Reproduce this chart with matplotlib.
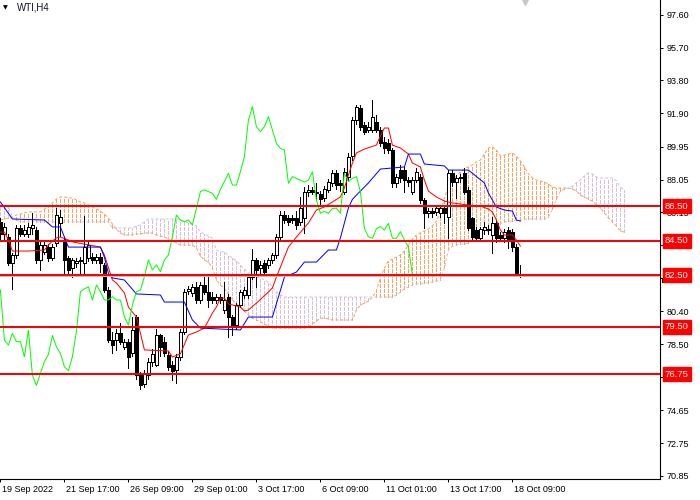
import numpy as np
import matplotlib
matplotlib.use("Agg")
import matplotlib.pyplot as plt
import matplotlib.transforms as mtransforms
from matplotlib.patches import Rectangle

plt.rcParams['font.family'] = ['Liberation Sans', 'DejaVu Sans']
plt.rcParams['lines.scale_dashes'] = False

# WTI H4 candles (bar 0 = 19 Sep 2022 01:00)
opens = [85.60, 84.90, 84.73, 83.18, 83.67, 85.22, 84.90, 84.90, 85.22, 85.12,
         83.38, 83.86, 84.15, 83.47, 84.35, 85.50, 84.54, 83.47, 82.89, 83.22,
         83.34, 83.22, 83.47, 83.57, 83.40, 83.57, 83.09, 81.64, 78.73, 78.73,
         79.12, 78.35, 78.64, 77.96, 80.09, 76.70, 76.20, 76.70, 77.48, 77.30,
         79.00, 78.64, 77.87, 77.28, 76.99, 77.77, 79.22, 81.60, 81.45, 81.83,
         81.06, 81.93, 81.54, 81.25, 81.06, 81.25, 80.48, 81.25, 80.09, 79.60,
         80.77, 81.35, 81.35, 82.41, 83.38, 82.90, 83.19, 83.09, 83.38, 83.67,
         84.73, 85.99, 85.80, 85.80, 85.80, 85.60, 85.80, 87.35, 87.45, 87.35,
         87.20, 86.96, 87.45, 87.83, 88.41, 87.83, 87.35, 88.20, 89.40, 91.50,
         92.18, 91.20, 90.93, 90.93, 91.41, 90.93, 90.25, 90.15, 89.77, 87.83,
         88.60, 88.60, 88.02, 87.35, 88.02, 88.22, 86.86, 86.10, 86.23, 86.19,
         86.09, 86.38, 85.90, 88.41, 87.93, 88.12, 88.41, 87.44, 85.80, 85.12,
         84.64, 85.12, 85.20, 84.83, 85.51, 84.83, 84.64, 85.12, 85.03, 84.15,
         82.55]
highs = [85.80, 85.50, 84.90, 83.80, 85.40, 85.40, 85.40, 85.50, 86.09, 85.30,
         84.40, 84.40, 84.30, 84.30, 86.38, 86.28, 84.70, 83.60, 83.50, 83.50,
         83.55, 85.93, 84.40, 83.80, 83.70, 83.80, 83.20, 81.80, 79.22, 79.40,
         79.70, 78.80, 78.80, 80.09, 80.20, 76.90, 77.00, 77.70, 78.20, 79.40,
         79.10, 78.90, 78.10, 77.50, 77.90, 79.40, 81.70, 81.90, 82.00, 82.10,
         82.10, 82.41, 82.41, 81.50, 81.40, 81.40, 82.12, 81.40, 80.20, 80.90,
         81.64, 81.80, 82.50, 84.00, 83.50, 83.30, 83.40, 83.50, 83.80, 84.90,
         86.20, 86.20, 86.00, 86.00, 86.20, 87.06, 87.60, 87.73, 87.60, 87.83,
         87.40, 87.70, 88.10, 88.60, 88.60, 88.00, 88.70, 89.60, 91.70, 92.38,
         92.40, 91.40, 91.40, 92.67, 91.80, 91.10, 90.50, 90.40, 89.90, 88.40,
         88.90, 88.80, 88.20, 88.20, 88.70, 88.40, 87.00, 86.40, 86.40, 86.50,
         86.60, 86.50, 88.60, 88.60, 88.30, 88.40, 88.70, 87.60, 85.90, 85.30,
         85.30, 85.60, 85.40, 85.90, 85.70, 85.00, 85.20, 85.30, 85.20, 84.30,
         83.10]
lows = [84.60, 84.60, 83.09, 81.67, 83.50, 84.80, 84.80, 84.70, 84.90, 83.20,
        82.80, 83.70, 83.30, 83.40, 84.20, 84.80, 82.60, 82.45, 82.37, 83.00,
        82.64, 82.60, 83.30, 83.20, 83.20, 82.70, 81.50, 78.60, 77.96, 78.15,
        78.50, 78.20, 77.09, 77.80, 76.50, 75.90, 76.00, 76.50, 77.20, 77.20,
        77.80, 77.80, 77.00, 76.40, 76.26, 77.60, 79.10, 81.40, 81.30, 80.90,
        80.90, 81.40, 80.67, 80.90, 80.90, 80.90, 80.30, 78.90, 79.00, 79.40,
        80.67, 81.20, 81.20, 82.30, 81.80, 82.60, 82.50, 82.90, 83.20, 83.50,
        84.60, 85.50, 85.40, 85.50, 85.20, 85.40, 84.93, 87.10, 87.20, 86.86,
        86.60, 86.80, 87.30, 87.70, 87.50, 87.40, 87.20, 88.00, 89.20, 91.30,
        90.90, 90.70, 90.80, 90.80, 90.80, 90.00, 89.60, 89.60, 87.60, 87.60,
        87.90, 87.35, 87.70, 87.20, 87.90, 86.70, 85.22, 85.90, 85.90, 86.00,
        85.90, 85.50, 84.64, 87.70, 87.00, 87.90, 87.20, 85.10, 84.50, 84.50,
        84.50, 84.90, 84.90, 83.77, 84.40, 84.50, 84.40, 84.06, 83.90, 82.45,
        82.40]
closes = [84.90, 85.30, 83.18, 83.67, 85.22, 84.90, 85.12, 85.30, 85.41, 83.38,
          84.25, 84.25, 83.47, 84.15, 85.99, 85.89, 83.38, 82.80, 83.38, 83.34,
          83.40, 84.15, 84.25, 83.38, 83.55, 83.18, 81.64, 78.73, 78.44, 79.12,
          78.64, 78.64, 77.77, 79.32, 76.70, 76.10, 76.80, 77.48, 77.90, 79.00,
          78.35, 77.96, 77.19, 76.95, 77.77, 79.22, 81.54, 81.70, 81.83, 81.06,
          81.93, 81.54, 81.06, 81.06, 81.25, 81.06, 81.06, 80.09, 79.60, 80.77,
          81.54, 81.64, 82.41, 83.38, 82.80, 83.10, 82.70, 83.38, 83.67, 84.73,
          85.99, 85.70, 85.60, 85.70, 85.41, 86.38, 87.35, 87.45, 87.35, 87.25,
          86.90, 87.48, 87.93, 88.41, 87.73, 87.73, 88.51, 89.38, 91.50, 92.28,
          91.12, 90.83, 91.12, 91.70, 90.93, 90.15, 89.86, 89.77, 87.83, 88.22,
          88.12, 88.02, 87.90, 88.02, 88.50, 86.86, 86.09, 86.20, 86.09, 86.38,
          86.38, 86.09, 88.41, 87.93, 88.12, 88.22, 87.35, 85.22, 84.73, 84.64,
          85.20, 85.32, 85.12, 85.51, 84.64, 84.64, 85.03, 84.54, 84.15, 82.51,
          82.45]

# Ichimoku lines (bar index, price)
tenkan_x = [0, 1, 2, 3, 7, 11, 12, 13, 14, 15, 17, 18, 25, 26, 28, 29, 31, 32, 34, 35,
            36, 42, 43, 45, 47, 49, 51, 53, 54, 55, 56, 57, 60, 61, 62, 64, 67, 68, 69, 70,
            71, 72, 74, 77, 79, 81, 83, 85, 86, 87, 88, 89, 91, 94, 95, 96, 97, 98, 100, 102,
            103, 105, 106, 107, 109, 111, 113, 117, 120, 122, 123, 124, 125, 126, 128, 129, 130]
tenkan_y = [85.00, 85.00, 84.54, 83.90, 83.90, 83.96, 84.25, 84.48, 84.66, 84.71,
            84.54, 84.43, 84.13, 83.67, 82.22, 82.05, 81.47, 80.65, 80.07, 79.14,
            78.16, 78.10, 77.75, 77.93, 79.03, 79.20, 79.43, 80.30, 80.65, 81.17,
            81.17, 80.83, 80.65, 80.42, 80.48, 80.88, 81.52, 81.76, 82.39, 82.97,
            83.55, 84.13, 84.71, 85.53, 86.28, 86.46, 86.75, 87.04, 87.56, 88.31,
            89.00, 89.59, 89.82, 90.05, 90.58, 91.04, 91.04, 90.05, 89.88, 89.53,
            89.01, 88.78, 88.02, 87.38, 87.04, 86.80, 86.69, 86.57, 86.51, 86.34,
            86.17, 85.70, 85.12, 84.83, 84.83, 84.54, 84.19]

kijun_x = [0, 3, 11, 13, 15, 17, 25, 26, 27, 28, 31, 34, 40, 41, 46, 48, 50, 60, 62, 68,
           71, 74, 76, 79, 82, 84, 85, 87, 88, 90, 92, 95, 101, 102, 105, 106, 111, 112, 117, 121,
           122, 124, 126, 128, 129, 130]
kijun_y = [86.75, 85.76, 85.70, 85.30, 85.30, 84.13, 84.13, 83.55, 82.60, 82.34,
           82.22, 81.41, 81.35, 80.94, 80.94, 79.90, 79.43, 79.32, 80.07, 80.07,
           82.39, 82.68, 83.26, 83.26, 83.96, 83.96, 84.66, 86.40, 86.90, 87.38,
           87.85, 88.66, 88.78, 89.53, 89.53, 88.95, 88.84, 88.60, 88.60, 87.85,
           87.27, 86.45, 86.28, 86.22, 85.70, 85.64]

# Senkou spans, one value per bar (0 .. 156)
span_a = ([85.70, 85.76, 85.82, 85.88, 85.99, 86.05, 86.11, 86.17, 86.17, 86.17,
           86.17, 86.34, 86.51, 86.69, 86.92, 87.04, 87.04, 86.98, 86.98, 86.86,
           86.75, 86.69, 86.57, 86.46, 86.34, 86.22, 86.05, 85.82, 85.47, 85.18,
           84.95, 84.83, 84.83, 84.83, 84.89, 84.89, 84.95, 84.95, 84.95, 84.83,
           84.77, 84.71, 84.60, 84.48, 84.37, 84.25, 84.25, 84.25, 84.25, 84.08,
           83.61, 83.38, 83.26, 82.92, 82.22, 81.93, 81.70, 81.41, 81.06, 80.83,
           80.65, 80.42, 80.19, 80.01, 79.90, 79.78, 79.67, 79.55]
          + [79.43] * 9
          + [79.49, 79.67, 79.84, 80.01, 80.01, 79.96, 79.90]
          + [79.90] * 5
          + [80.48, 80.77, 80.88, 81.00, 81.23, 81.58, 82.39, 82.92, 83.32, 83.44,
             83.55, 83.67, 83.90, 84.25, 84.60, 84.83, 84.95, 85.06, 85.18, 85.35,
             85.64, 86.17, 86.98, 87.67, 88.02, 88.26, 88.49, 88.66, 88.78, 88.89,
             89.07, 89.18, 89.53, 89.88, 89.94, 89.76, 89.42, 89.47, 89.53, 89.59,
             89.42, 89.13, 88.78, 88.37, 88.14, 88.02, 87.97, 87.91, 87.79, 87.62,
             87.56, 87.56, 87.56, 87.56, 87.50, 87.38, 87.15, 87.04, 86.92, 86.80,
             86.57, 86.40, 86.11, 85.82, 85.59, 85.35, 85.06, 85.00])
span_b = ([86.63, 86.57, 86.46, 85.88, 85.70]
          + [85.59] * 23
          + [85.24] * 6
          + [85.35, 85.41, 85.59, 85.76]
          + [85.76] * 7
          + [85.70, 85.64, 85.53, 85.47, 85.35, 85.00, 84.89, 84.77, 84.66, 83.96,
             83.85, 83.85, 83.67, 83.50, 83.32, 83.09, 82.86, 82.63, 82.45, 82.39,
             82.34, 82.22, 82.10, 81.81, 81.52, 81.35, 81.23]
          + [81.23] * 27
          + [81.35, 81.52, 81.70, 81.81, 81.93, 81.99, 81.99, 82.05, 82.05, 82.10,
             82.16, 82.22, 82.92, 83.96, 84.19, 84.25, 84.31, 84.31, 84.37, 84.54,
             84.71, 84.83, 84.95, 85.06, 85.18, 85.35, 85.47, 85.59, 85.64, 85.64,
             85.70, 85.70]
          + [85.76] * 6
          + [85.88, 86.34, 86.92, 87.38, 87.50, 87.56, 87.67, 87.85, 88.02, 88.26,
             88.43, 88.37, 88.20, 88.14]
          + [88.14] * 3
          + [87.97, 87.62, 87.44])

levels = [86.50, 84.50, 82.50, 79.50, 76.75]
bid = 82.45
chikou_shift = 26

ytick_vals = [97.60, 95.70, 93.80, 91.90, 89.95, 88.05, 86.15, 84.25, 82.35, 80.40,
              78.50, 76.60, 74.65, 72.75, 70.85]
xtick_bars = [0, 16, 32, 48, 64, 80, 96, 112, 128]
xtick_labels = ['19 Sep 2022', '21 Sep 17:00', '26 Sep 09:00', '29 Sep 01:00',
                '3 Oct 17:00', '6 Oct 09:00', '11 Oct 01:00', '13 Oct 17:00', '18 Oct 09:00']

o = np.array(opens)
h = np.array(highs)
l = np.array(lows)
c = np.array(closes)
bars = np.arange(len(c))
sa = np.array(span_a)
sb = np.array(span_b)
sbars = np.arange(len(sa))

fig = plt.figure(figsize=(7, 5), dpi=100)
ax = fig.add_axes([0, 21 / 500, 660 / 700, 479 / 500])
ax.set_xlim(-0.1, 164.9)
ax.set_ylim(70.67, 98.47)

dots = (0, (2.2, 1.4))
px = 0.72  # one pixel in points

# cloud
cloud_cols = np.where(sa >= sb, '#f4a460', '#d8bfd8')
ax.vlines(sbars, np.minimum(sa, sb), np.maximum(sa, sb), colors=cloud_cols,
          linestyles=dots, linewidth=px, antialiased=False, zorder=1)
ax.plot(sbars, sa, color='#f4a460', ls=dots, lw=px, zorder=1)
ax.plot(sbars, sb, color='#d8bfd8', ls=dots, lw=px, zorder=1)

# candles
ax.vlines(bars, l, h, colors='black', linewidth=px, antialiased=False, zorder=3)
bull = c >= o
ax.bar(bars, c - o, bottom=o, width=0.62,
       color=np.where(bull, 'white', 'black'), edgecolor='black',
       linewidth=px, antialiased=False, zorder=3)

# tenkan / kijun / chikou
ax.plot(tenkan_x, tenkan_y, color='#ff0000', lw=px, zorder=4)
ax.plot(kijun_x, kijun_y, color='#0000ff', lw=px, zorder=4)
ax.plot(bars[:-chikou_shift], c[chikou_shift:], color='#00ff00', lw=px, zorder=4)

# bid line and support/resistance levels
ax.axhline(bid, color='#c0c0c0', lw=px, zorder=4)
for lv in levels:
    ax.axhline(lv, color='#ff0000', lw=2 * px, antialiased=False, zorder=5)

# bid tag, almost fully hidden under the 82.50 tag
side = mtransforms.blended_transform_factory(ax.transAxes, ax.transData)
ax.add_patch(Rectangle((1 + 2 / 660, bid - 0.42), 30 / 660, 0.3, transform=side,
                       fc='black', ec='none', clip_on=False, zorder=9))
for lv in levels:
    ax.annotate(f'{lv:.2f}', xy=(1, lv), xycoords=('axes fraction', 'data'),
                xytext=(3.5, 0), textcoords='offset points', ha='left', va='center',
                fontsize=6.8, color='white', annotation_clip=False, zorder=10,
                bbox=dict(boxstyle='square,pad=0.25', fc='#ff0000', ec='#ff0000'))

# axes styling
for s in ['top', 'left']:
    ax.spines[s].set_visible(False)
for s in ['right', 'bottom']:
    ax.spines[s].set_color('black')
    ax.spines[s].set_linewidth(0.8)

ax.set_yticks(ytick_vals)
# the 82.35 label sits fully under the 82.50 level tag
ax.set_yticklabels(['' if abs(v - 82.35) < 0.01 else f'{v:.2f}' for v in ytick_vals])
ax.tick_params(axis='y', left=False, right=True, labelleft=False, labelright=True,
               direction='out', length=2.5, width=0.7, pad=2, labelsize=6.5)
ax.set_xticks(xtick_bars)
ax.set_xticklabels(xtick_labels)
ax.tick_params(axis='x', direction='out', length=2.5, width=0.7, pad=2, labelsize=6.5)
shift = mtransforms.ScaledTranslation(2 / 100, 0, fig.dpi_scale_trans)
for lab in ax.get_xticklabels():
    lab.set_horizontalalignment('left')
    lab.set_transform(lab.get_transform() + shift)

# title and chart-shift marker
fig.text(17 / 700, 1 - 8 / 500, 'WTI,H4', fontsize=7, va='center', color='#101030')
fig.text(3 / 700, 1 - 8 / 500, '\u25bc', fontsize=4.5, va='center', color='black',
         family='DejaVu Sans')
ax.plot([0.795], [1.0], marker='v', ms=7, color='#c8c8c8', transform=ax.transAxes,
        clip_on=False, zorder=6)

fig.savefig('out.png', dpi=100)
